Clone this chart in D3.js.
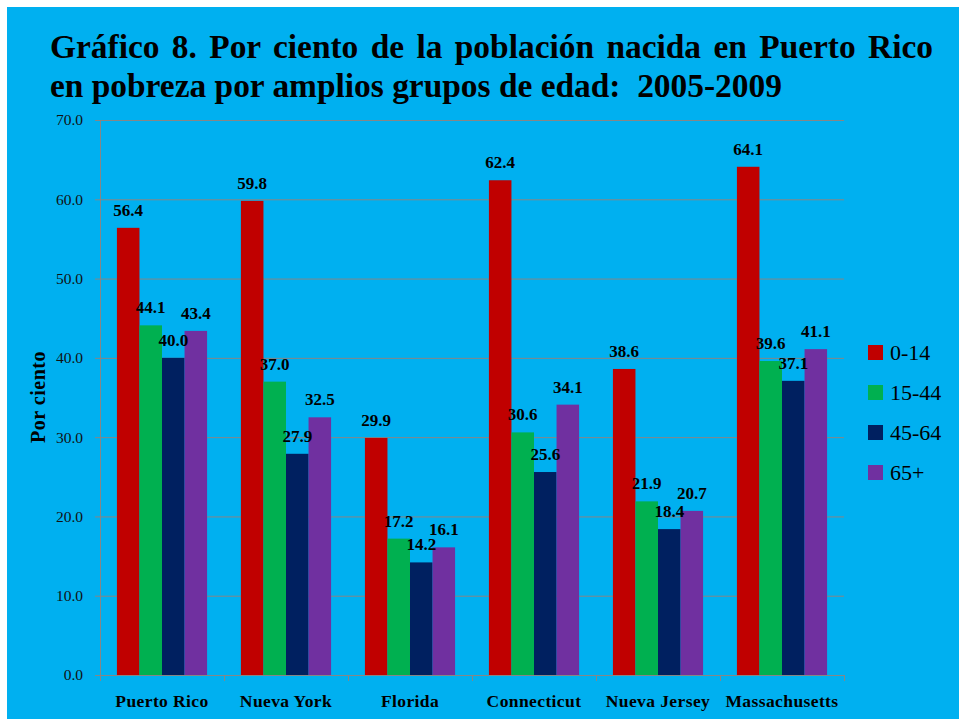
<!DOCTYPE html>
<html>
<head>
<meta charset="utf-8">
<script src="https://cdn.jsdelivr.net/npm/d3@7"></script>
<style>
  body { margin: 0; background: #fff; }
  svg { display: block; }
  text { font-family: "Liberation Serif", "DejaVu Serif", serif; }
</style>
</head>
<body>
<div id="viz"></div>
<script>
var states = ["Puerto Rico", "Nueva York", "Florida", "Connecticut", "Nueva Jersey", "Massachusetts"];
var ageGroups = ["0-14", "15-44", "45-64", "65+"];
var groupColors = ["#C00000", "#00B050", "#002060", "#7030A0"];
var age0_14 = [56.4, 59.8, 29.9, 62.4, 38.6, 64.1];
var age15_44 = [44.1, 37.0, 17.2, 30.6, 21.9, 39.6];
var age45_64 = [40.0, 27.9, 14.2, 25.6, 18.4, 37.1];
var age65 = [43.4, 32.5, 16.1, 34.1, 20.7, 41.1];
var yTicks = [0, 10, 20, 30, 40, 50, 60, 70];
var titleLines = ["Gráfico 8. Por ciento de la población nacida en Puerto Rico",
                  "en pobreza por amplios grupos de edad:  2005-2009"];

var series = [age0_14, age15_44, age45_64, age65];

var data = [];
states.forEach(function(s, i){
  ageGroups.forEach(function(g, j){
    data.push({state: s, group: g, value: series[j][i]});
  });
});

var W = 959, H = 719;
var margin = {top: 120, right: 115, bottom: 44, left: 100};
var width = W - margin.left - margin.right,
    height = H - margin.top - margin.bottom;

var svg = d3.select("#viz").append("svg").attr("width", W).attr("height", H);

// background panel
svg.append("rect")
    .attr("x", 7).attr("y", 7)
    .attr("width", W - 7).attr("height", H - 7)
    .style("fill", "#00B0F0");

// title, justified first line
var title = svg.append("g").attr("class", "title");
var t2 = title.append("text")
    .attr("x", 50).attr("y", 97)
    .style("font-weight", "bold")
    .style("font-size", "31px")
    .style("white-space", "pre")
    .text(titleLines[1]);
var fs = 31 * 732 / t2.node().getComputedTextLength();
t2.style("font-size", fs + "px");

var t1 = title.append("text")
    .attr("x", 50).attr("y", 58)
    .style("font-weight", "bold")
    .style("font-size", fs + "px")
    .style("white-space", "pre")
    .text(titleLines[0]);
var natural = t1.node().getComputedTextLength();
var spaces = titleLines[0].split(" ").length - 1;
t1.style("word-spacing", ((883 - natural) / spaces) + "px");

var g = svg.append("g")
    .attr("transform", "translate(" + margin.left + "," + margin.top + ")");

var x0 = d3.scaleBand().domain(states).range([0, width]);
var x1 = d3.scaleBand().domain(ageGroups).range([0, x0.bandwidth()]).paddingInner(0).paddingOuter(0.75);
var y = d3.scaleLinear().domain([0, 70]).range([height, 0]);
var color = d3.scaleOrdinal().domain(ageGroups).range(groupColors);

// gridlines
g.append("g")
    .attr("class", "grid")
    .selectAll("line").data(yTicks).enter().append("line")
    .attr("x1", -5).attr("x2", width)
    .attr("y1", function(d){ return y(d) + 0.5; })
    .attr("y2", function(d){ return y(d) + 0.5; })
    .style("stroke", "#868686")
    .style("stroke-width", "1px");

// y axis line
g.append("line")
    .attr("x1", 0.5).attr("x2", 0.5)
    .attr("y1", 0).attr("y2", height)
    .style("stroke", "#868686");

// tick labels
g.append("g")
    .selectAll("text").data(yTicks).enter().append("text")
    .attr("x", -17)
    .attr("y", function(d){ return y(d); })
    .attr("dy", "0.35em")
    .style("text-anchor", "end")
    .style("font-size", "15.5px")
    .style("fill", "#111")
    .text(function(d){ return d3.format(".1f")(d); });

// bottom ticks
g.append("g")
    .selectAll("line").data(d3.range(states.length + 1)).enter().append("line")
    .attr("x1", function(d){ return Math.round(d * x0.step()) + 0.5; })
    .attr("x2", function(d){ return Math.round(d * x0.step()) + 0.5; })
    .attr("y1", height).attr("y2", height + 6)
    .style("stroke", "#868686");

// bars
g.append("g")
    .selectAll("rect").data(data).enter().append("rect")
    .attr("x", function(d){ return x0(d.state) + x1(d.group); })
    .attr("y", function(d){ return y(d.value); })
    .attr("width", x1.bandwidth())
    .attr("height", function(d){ return height - y(d.value); })
    .style("fill", function(d){ return color(d.group); });

// value labels
g.append("g")
    .selectAll("text").data(data).enter().append("text")
    .attr("x", function(d){ return x0(d.state) + x1(d.group) + x1.bandwidth() / 2; })
    .attr("y", function(d){ return y(d.value) - 12; })
    .style("text-anchor", "middle")
    .style("font-weight", "bold")
    .style("font-size", "17px")
    .text(function(d){ return d3.format(".1f")(d.value); });

// category labels
g.append("g")
    .selectAll("text").data(states).enter().append("text")
    .attr("x", function(d){ return x0(d) + x0.bandwidth() / 2; })
    .attr("y", height + 32)
    .style("text-anchor", "middle")
    .style("font-weight", "bold")
    .style("font-size", "17.5px")
    .style("letter-spacing", "0.4px")
    .text(function(d){ return d; });

// y axis title
svg.append("text")
    .attr("transform", "translate(45,397) rotate(-90)")
    .style("text-anchor", "middle")
    .style("font-weight", "bold")
    .style("font-size", "20px")
    .style("letter-spacing", "0.5px")
    .text("Por ciento");

// legend
var legend = svg.append("g")
    .attr("transform", "translate(868,345)")
    .selectAll("g").data(ageGroups).enter().append("g")
    .attr("transform", function(d, i){ return "translate(0," + (i * 40) + ")"; });

legend.append("rect")
    .attr("width", 15).attr("height", 15)
    .style("fill", function(d){ return color(d); });

legend.append("text")
    .attr("x", 22).attr("y", 15)
    .style("font-size", "22px")
    .text(function(d){ return d; });
</script>
</body>
</html>
